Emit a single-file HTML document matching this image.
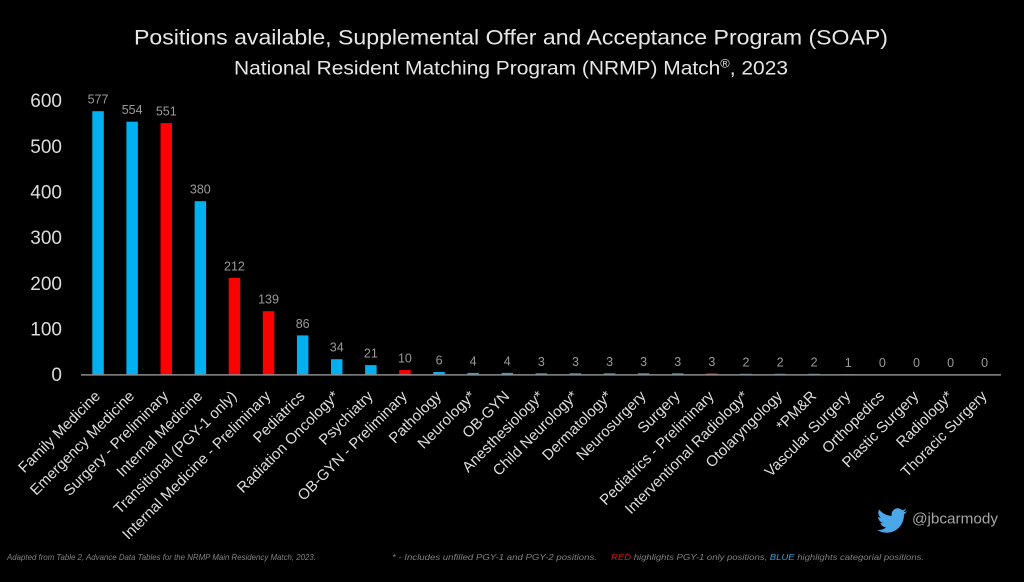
<!DOCTYPE html>
<html>
<head>
<meta charset="utf-8">
<style>
  html, body { margin:0; padding:0; background:#000; }
  svg { display:block; }
  text { font-family: "Liberation Sans", "DejaVu Sans", sans-serif; }
</style>
</head>
<body>
<svg width="1024" height="582" viewBox="0 0 1024 582" xmlns="http://www.w3.org/2000/svg">
  <rect x="0" y="0" width="1024" height="582" fill="#000"/>

  <!-- Titles -->
  <text x="134" y="44.5" font-size="21" fill="#e6e6e6" textLength="754" lengthAdjust="spacingAndGlyphs">Positions available, Supplemental Offer and Acceptance Program (SOAP)</text>
  <text x="234" y="74.5" font-size="19.5" fill="#e6e6e6" textLength="554" lengthAdjust="spacingAndGlyphs">National Resident Matching Program (NRMP) Match<tspan font-size="12" dy="-7">®</tspan><tspan dy="7">, 2023</tspan></text>

  <!-- Y axis labels -->
  <g font-size="19" fill="#dcdcdc" text-anchor="end">
    <text x="62" y="381.2">0</text>
    <text x="62" y="335.5">100</text>
    <text x="62" y="289.9">200</text>
    <text x="62" y="244.2">300</text>
    <text x="62" y="198.5">400</text>
    <text x="62" y="152.9">500</text>
    <text x="62" y="107.2">600</text>
  </g>

  <!-- Bars -->
  <g>
    <rect x="92.3" y="111.2" width="11.5" height="263.5" fill="#00B0F0"/>
    <rect x="126.4" y="121.7" width="11.5" height="253.0" fill="#00B0F0"/>
    <rect x="160.5" y="123.1" width="11.5" height="251.6" fill="#FF0000"/>
    <rect x="194.6" y="201.2" width="11.5" height="173.5" fill="#00B0F0"/>
    <rect x="228.7" y="277.9" width="11.5" height="96.8" fill="#FF0000"/>
    <rect x="262.8" y="311.2" width="11.5" height="63.5" fill="#FF0000"/>
    <rect x="296.9" y="335.4" width="11.5" height="39.3" fill="#00B0F0"/>
    <rect x="331.0" y="359.2" width="11.5" height="15.5" fill="#00B0F0"/>
    <rect x="365.1" y="365.1" width="11.5" height="9.6" fill="#00B0F0"/>
    <rect x="399.2" y="370.1" width="11.5" height="4.6" fill="#FF0000"/>
    <rect x="433.3" y="372.0" width="11.5" height="2.7" fill="#00B0F0"/>
    <rect x="467.4" y="372.9" width="11.5" height="1.8" fill="#00B0F0"/>
    <rect x="501.5" y="372.9" width="11.5" height="1.8" fill="#00B0F0"/>
    <rect x="535.6" y="373.3" width="11.5" height="1.4" fill="#00B0F0"/>
    <rect x="569.7" y="373.3" width="11.5" height="1.4" fill="#00B0F0"/>
    <rect x="603.8" y="373.3" width="11.5" height="1.4" fill="#00B0F0"/>
    <rect x="637.9" y="373.3" width="11.5" height="1.4" fill="#00B0F0"/>
    <rect x="672.0" y="373.3" width="11.5" height="1.4" fill="#00B0F0"/>
    <rect x="706.1" y="373.3" width="11.5" height="1.4" fill="#FF0000"/>
    <rect x="740.2" y="373.8" width="11.5" height="0.9" fill="#00B0F0"/>
    <rect x="774.3" y="373.8" width="11.5" height="0.9" fill="#00B0F0"/>
    <rect x="808.4" y="373.8" width="11.5" height="0.9" fill="#00B0F0"/>
    <rect x="842.5" y="374.2" width="11.5" height="0.5" fill="#00B0F0"/>
  </g>

  <!-- Axis line -->
  <line x1="81" y1="374.9" x2="1001" y2="374.9" stroke="#8c8c8c" stroke-width="1.5"/>

  <!-- Value labels -->
  <g font-size="12.5" fill="#9a9a9a" text-anchor="middle">
    <text x="98.05" y="103.5">577</text>
    <text x="132.15" y="114">554</text>
    <text x="166.25" y="115.5">551</text>
    <text x="200.35" y="193.5">380</text>
    <text x="234.45" y="270.3">212</text>
    <text x="268.55" y="303.6">139</text>
    <text x="302.65" y="327.8">86</text>
    <text x="336.75" y="351.6">34</text>
    <text x="370.85" y="357.5">21</text>
    <text x="404.95" y="362.5">10</text>
    <text x="439.05" y="364.5">6</text>
    <text x="473.15" y="365.5">4</text>
    <text x="507.25" y="365.5">4</text>
    <text x="541.35" y="366">3</text>
    <text x="575.45" y="366">3</text>
    <text x="609.55" y="366">3</text>
    <text x="643.65" y="366">3</text>
    <text x="677.75" y="366">3</text>
    <text x="711.85" y="366">3</text>
    <text x="745.95" y="366.5">2</text>
    <text x="780.05" y="366.5">2</text>
    <text x="814.15" y="366.5">2</text>
    <text x="848.25" y="367">1</text>
    <text x="882.35" y="367">0</text>
    <text x="916.45" y="367">0</text>
    <text x="950.55" y="367">0</text>
    <text x="984.65" y="367">0</text>
  </g>

  <!-- X category labels -->
  <g font-size="15" fill="#dedede" text-anchor="end">
    <text transform="translate(101.05,397) rotate(-45)">Family Medicine</text>
    <text transform="translate(135.15,397) rotate(-45)">Emergency Medicine</text>
    <text transform="translate(169.25,397) rotate(-45)">Surgery - Preliminary</text>
    <text transform="translate(203.35,397) rotate(-45)">Internal Medicine</text>
    <text transform="translate(237.45,397) rotate(-45)">Transitional (PGY-1 only)</text>
    <text transform="translate(271.55,397) rotate(-45)">Internal Medicine - Preliminary</text>
    <text transform="translate(305.65,397) rotate(-45)">Pediatrics</text>
    <text transform="translate(339.75,397) rotate(-45)">Radiation Oncology*</text>
    <text transform="translate(373.85,397) rotate(-45)">Psychiatry</text>
    <text transform="translate(407.95,397) rotate(-45)">OB-GYN - Preliminary</text>
    <text transform="translate(442.05,397) rotate(-45)">Pathology</text>
    <text transform="translate(476.15,397) rotate(-45)">Neurology*</text>
    <text transform="translate(510.25,397) rotate(-45)">OB-GYN</text>
    <text transform="translate(544.35,397) rotate(-45)">Anesthesiology*</text>
    <text transform="translate(578.45,397) rotate(-45)">Child Neurology*</text>
    <text transform="translate(612.55,397) rotate(-45)">Dermatology*</text>
    <text transform="translate(646.65,397) rotate(-45)">Neurosurgery</text>
    <text transform="translate(680.75,397) rotate(-45)">Surgery</text>
    <text transform="translate(714.85,397) rotate(-45)">Pediatrics - Preliminary</text>
    <text transform="translate(748.95,397) rotate(-45)">Interventional Radiology*</text>
    <text transform="translate(783.05,397) rotate(-45)">Otolaryngology</text>
    <text transform="translate(817.15,397) rotate(-45)">*PM&amp;R</text>
    <text transform="translate(851.25,397) rotate(-45)">Vascular Surgery</text>
    <text transform="translate(885.35,397) rotate(-45)">Orthopedics</text>
    <text transform="translate(919.45,397) rotate(-45)">Plastic Surgery</text>
    <text transform="translate(953.55,397) rotate(-45)">Radiology*</text>
    <text transform="translate(987.65,397) rotate(-45)">Thoracic Surgery</text>
  </g>

  <!-- Twitter handle -->
  <g transform="translate(877,505.5) scale(1.25)">
    <path fill="#4aa8e8" d="M23.953 4.57a10 10 0 01-2.825.775 4.958 4.958 0 002.163-2.723c-.951.555-2.005.959-3.127 1.184a4.92 4.92 0 00-8.384 4.482C7.69 8.095 4.067 6.13 1.64 3.162a4.822 4.822 0 00-.666 2.475c0 1.710.87 3.213 2.188 4.096a4.904 4.904 0 01-2.228-.616v.06a4.923 4.923 0 003.946 4.827 4.996 4.996 0 01-2.212.085 4.936 4.936 0 004.604 3.417 9.867 9.867 0 01-6.102 2.105c-.39 0-.779-.023-1.17-.067a13.995 13.995 0 007.557 2.209c9.053 0 13.998-7.496 13.998-13.985 0-.21 0-.42-.015-.63A9.935 9.935 0 0024 4.59z"/>
  </g>
  <text x="912" y="523.5" font-size="15" fill="#a6a6a6" textLength="86" lengthAdjust="spacingAndGlyphs">@jbcarmody</text>

  <!-- Footer -->
  <g font-size="8.5" font-style="italic" fill="#808080">
    <text x="7" y="560" textLength="309" lengthAdjust="spacingAndGlyphs">Adapted from Table 2, Advance Data Tables for the NRMP Main Residency Match, 2023.</text>
    <text x="392" y="560" textLength="205" lengthAdjust="spacingAndGlyphs">* - Includes unfilled PGY-1 and PGY-2 positions.</text>
    <text x="611" y="560" textLength="313" lengthAdjust="spacingAndGlyphs"><tspan fill="#d21a1a">RED</tspan> highlights PGY-1 only positions, <tspan fill="#3c9ad8">BLUE</tspan> highlights categorial positions.</text>
  </g>
</svg>
</body>
</html>
